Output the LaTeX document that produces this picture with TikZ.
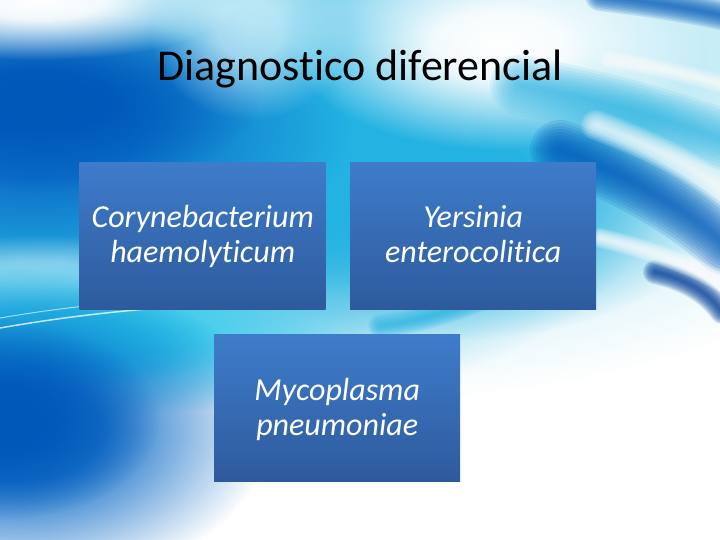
\documentclass[tikz,border=0pt]{standalone}
\usepackage{fontspec}
\setmainfont{Carlito}[Ligatures={NoCommon}]
\usetikzlibrary{fadings}
\definecolor{boxtop}{RGB}{62,124,202}
\definecolor{boxbot}{RGB}{46,90,156}
\definecolor{skyA}{RGB}{8,104,198}
\definecolor{skyB}{RGB}{35,178,226}
\definecolor{skyC}{RGB}{165,226,243}
\definecolor{deepblue}{RGB}{0,88,185}
\definecolor{navy}{RGB}{0,60,150}
\definecolor{brightcyan}{RGB}{40,202,236}
\pgfdeclareradialshading{blobshade}{\pgfpointorigin}{color(0bp)=(white); color(8bp)=(white!92!black); color(25bp)=(black); color(50bp)=(black)}
\pgfdeclarefading{blob}{\pgfuseshading{blobshade}}
% soft-edged curved band: colour, width, opacity per layer, path
\newcommand\softband[4]{%
  \foreach \k in {1,...,10}{\draw[#1, line width=\k*#2/10, opacity=#3, line cap=round] #4;}}
\tikzset{
  blobfill/.style={fill=#1, path fading=blob},
  dbox/.style={rectangle, minimum width=246bp, minimum height=147bp,
    top color=boxtop, bottom color=boxbot, text=white,
    font=\fontsize{32bp}{35bp}\selectfont\itshape, align=center, inner sep=0pt},
  titletext/.style={font=\fontsize{44bp}{52bp}\selectfont, text=black, inner sep=0pt}
}
\newcommand\lasttail{\rule[-7bp]{0pt}{7bp}}
\begin{document}
\begin{tikzpicture}[x=1bp,y=-1bp]
\useasboundingbox (0,0) rectangle (720,540);
\fill[white] (0,0) rectangle (720,540);
% ---------- soft background ----------
\fill[blobfill=skyC] (360,60) ellipse (640 and 340);
\fill[blobfill=skyB] (230,160) ellipse (440 and 250);
\fill[blobfill=skyB] (300,150) ellipse (320 and 140);
\fill[blobfill=skyB] (450,190) ellipse (280 and 150);
\fill[blobfill=skyB] (30,240) ellipse (200 and 100);
\fill[blobfill=skyA] (30,130) ellipse (320 and 150);
\fill[blobfill=deepblue] (40,100) ellipse (220 and 90);
\fill[blobfill=white] (40,0) ellipse (200 and 60);
\fill[blobfill=white] (500,45) ellipse (210 and 105);
\fill[blobfill=white, opacity=0.6] (250,30) ellipse (100 and 90);
\fill[blobfill=white, opacity=0.5] (40,275) ellipse (180 and 40);
\fill[blobfill=brightcyan] (50,340) ellipse (320 and 80);
\fill[blobfill=brightcyan] (30,345) ellipse (200 and 45);
\fill[blobfill=skyA] (20,430) ellipse (250 and 160);
\fill[blobfill=deepblue] (0,420) ellipse (160 and 100);
\draw[white, line width=1.5bp, opacity=0.75] (0,328) .. controls (80,314) and (160,306) .. (240,304);
\draw[white, line width=1bp, opacity=0.6] (0,318) .. controls (70,306) and (150,298) .. (230,296);
% right side swirls
\softband{skyB}{60bp}{0.1}{(520,85) .. controls (600,100) and (670,120) .. (725,140)}
\softband{deepblue}{60bp}{0.14}{(560,150) .. controls (630,175) and (690,212) .. (725,245)}
\softband{white}{30bp}{0.12}{(596,125) .. controls (650,145) and (690,165) .. (725,192)}
\softband{white}{18bp}{0.12}{(610,60) .. controls (650,65) and (690,75) .. (725,85)}
\softband{deepblue}{30bp}{0.13}{(600,-4) .. controls (650,2) and (690,8) .. (725,16)}
\softband{navy}{24bp}{0.14}{(655,272) .. controls (690,280) and (710,295) .. (722,312)}
\softband{skyB}{24bp}{0.1}{(380,326) .. controls (420,322) and (460,308) .. (500,292)}
\softband{white}{20bp}{0.14}{(600,238) .. controls (650,250) and (690,264) .. (725,284)}
% ---------- title ----------
\node[titletext, anchor=base] (title) at (360,81) {Diagnostico diferencial};
% ---------- boxes ----------
\node[dbox, anchor=north west] (cory) at (79.5,162) {\rule{0pt}{26bp}Corynebacterium\\haemolyticum\lasttail};
\node[dbox, anchor=north west] (yers) at (350,162) {\rule{0pt}{26bp}Yersinia\\enterocolitica\lasttail};
\node[dbox, anchor=north west] (myco) at (214,334.5) {\rule{0pt}{26bp}Mycoplasma\\pneumoniae\lasttail};
\end{tikzpicture}
\end{document}
